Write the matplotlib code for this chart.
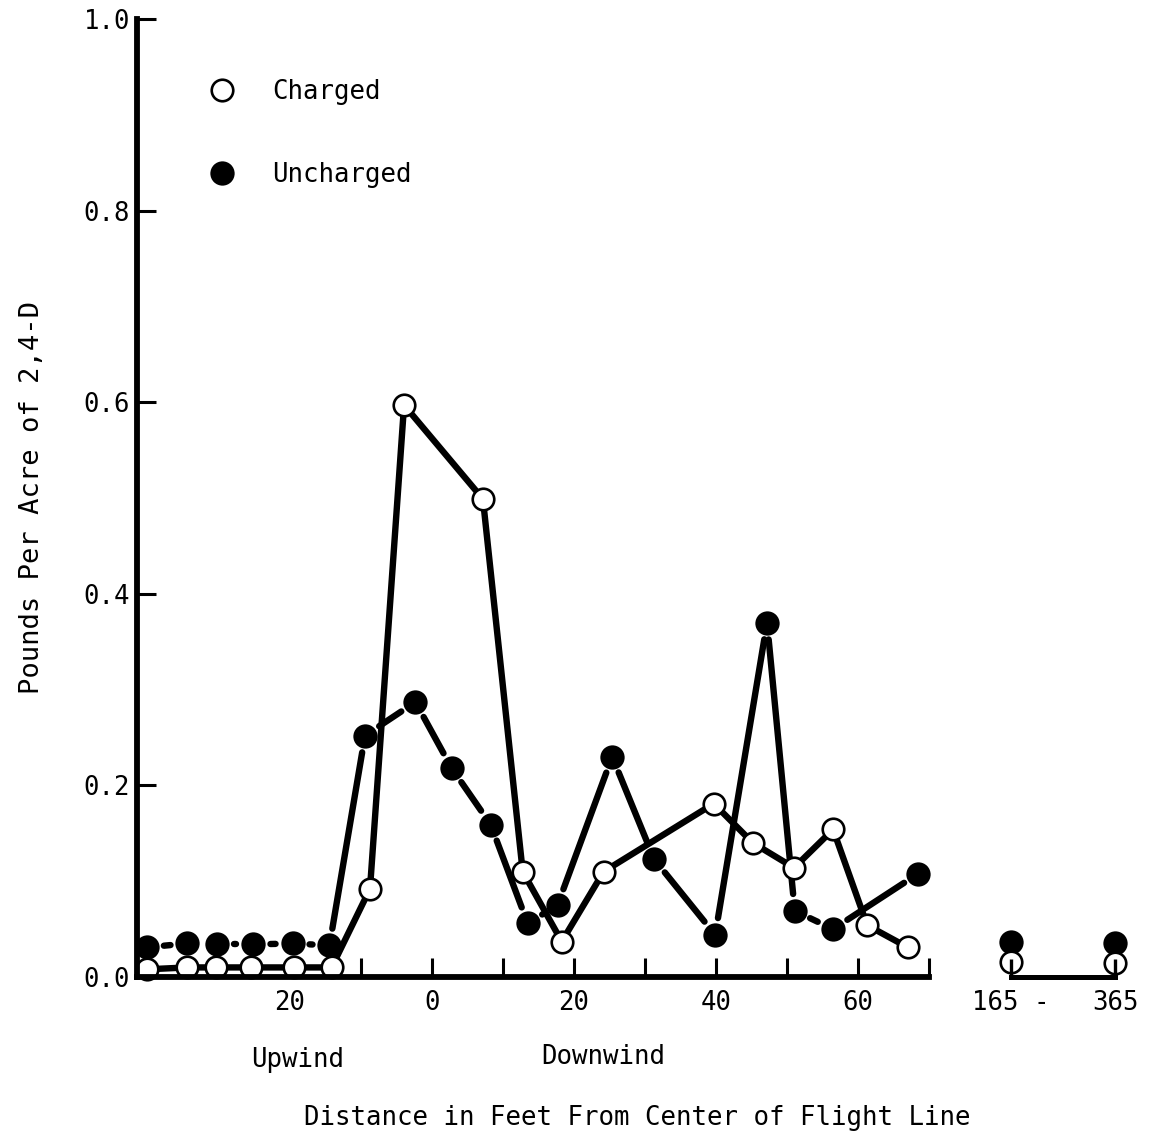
import numpy as np
import matplotlib
matplotlib.use("Agg")
import matplotlib.pyplot as plt
from matplotlib.lines import Line2D

plt.rcParams['font.family'] = ['DejaVu Sans Mono']
FS = 18.5

# ---- data (feet from flight-line centre; upwind negative) ----
charged_x = [-40.1, -34.4, -30.4, -25.4, -19.4, -14.1, -8.7, -3.9, 7.2, 12.8,
             18.3, 24.2, 39.7, 45.2, 51.0, 56.5, 61.3, 67.0]
charged_y = [0.008, 0.010, 0.010, 0.010, 0.010, 0.010, 0.092, 0.597, 0.499, 0.110,
             0.037, 0.110, 0.181, 0.140, 0.114, 0.154, 0.054, 0.031]

uncharged_x = [-40.1, -34.4, -30.3, -25.1, -19.6, -14.4, -9.4, -2.3, 2.8, 8.3,
               13.5, 17.7, 25.4, 31.3, 39.9, 47.2, 51.1, 56.5, 68.5]
uncharged_y = [0.031, 0.035, 0.034, 0.034, 0.035, 0.033, 0.252, 0.287, 0.218, 0.159,
               0.056, 0.075, 0.230, 0.123, 0.044, 0.370, 0.069, 0.050, 0.108]

far_x = [165, 365]
far_charged = [0.016, 0.015]
far_uncharged = [0.037, 0.035]

xtick_pos = [-20, -10, 0, 10, 20, 30, 40, 50, 60, 70]
xtick_lab = ['20', '', '0', '', '20', '', '40', '', '60', '']
ytick_pos = [0.0, 0.2, 0.4, 0.6, 0.8, 1.0]
ytick_lab = ['0.0', '0.2', '0.4', '0.6', '0.8', '1.0']

W, H = 1150, 1139
fig = plt.figure(figsize=(W / 100, H / 100), dpi=100)

def fx(px):
    return px / W

def fy(py):
    return 1 - py / H

y_bot, y_top = 977, 19
ax = fig.add_axes([fx(137), fy(y_bot), fx(929) - fx(137), (y_bot - y_top) / H])
ax.set_xlim(-41.5, 70)
ax.set_ylim(0, 1.0)

for s in ['top', 'right']:
    ax.spines[s].set_visible(False)
for s in ['left', 'bottom']:
    ax.spines[s].set_linewidth(4.2)
    ax.spines[s].set_zorder(6)

ax.set_xticks(xtick_pos, xtick_lab)
ax.set_yticks(ytick_pos, ytick_lab)
ax.tick_params(axis='both', direction='in', length=14, width=2.2, labelsize=FS)
ax.tick_params(axis='x', pad=9)
ax.tick_params(axis='y', pad=5)

LW = 4.6
GAP = 17  # pixels of empty space around each uncharged point


def gapped_segments(axis, xs, ys, gap_px):
    pts = axis.transData.transform(np.column_stack([xs, ys]))
    inv = axis.transData.inverted()
    segs = []
    for p, q in zip(pts[:-1], pts[1:]):
        d = q - p
        L = np.hypot(d[0], d[1])
        if L <= 2 * gap_px:
            continue
        u = d / L
        a = p + u * gap_px
        b = q - u * gap_px
        segs.append(inv.transform(np.array([a, b])))
    return segs


# Uncharged: broken line with gaps at the points
for seg in gapped_segments(ax, uncharged_x, uncharged_y, GAP):
    ax.plot(seg[:, 0], seg[:, 1], color='black', lw=LW,
            solid_capstyle='round', zorder=2)
ax.plot(uncharged_x, uncharged_y, linestyle='none', marker='o', ms=17.5,
        mfc='black', mec='black', mew=0, zorder=4, clip_on=False)

# Charged: continuous line with open circles
ax.plot(charged_x, charged_y, color='black', lw=LW, solid_capstyle='round', zorder=3)
ax.plot(charged_x, charged_y, linestyle='none', marker='o', ms=15.5, mfc='white',
        mec='black', mew=1.9, zorder=5, clip_on=False)

# Far-distance panel
ax2 = fig.add_axes([fx(1011), fy(y_bot), fx(1115) - fx(1011), (y_bot - y_top) / H])
ax2.set_xlim(165, 365)
ax2.set_ylim(0, 1.0)
for s in ['top', 'right', 'left']:
    ax2.spines[s].set_visible(False)
ax2.spines['bottom'].set_linewidth(3.6)
ax2.set_yticks([])
ax2.set_xticks(far_x, ['165 -', '365'])
ax2.tick_params(axis='x', direction='in', length=13, width=2.4, labelsize=FS, pad=9)
ax2.patch.set_alpha(0)
ax2.plot(far_x, far_uncharged, linestyle='none', marker='o', ms=17.5,
         mfc='black', mec='black', mew=0, zorder=1, clip_on=False)
ax2.plot(far_x, far_charged, linestyle='none', marker='o', ms=15.5, mfc='white',
         mec='black', mew=1.9, zorder=1.5, clip_on=False)

# Legend
h_open = Line2D([], [], linestyle='none', marker='o', ms=15.5, mfc='white',
                mec='black', mew=1.9)
h_fill = Line2D([], [], linestyle='none', marker='o', ms=17.5, mfc='black',
                mec='black', mew=0)
fig.legend([h_open, h_fill], ['Charged', 'Uncharged'], loc='upper left',
           bbox_to_anchor=(fx(209), fy(79)), frameon=False, fontsize=FS,
           handlelength=1.0, handletextpad=1.45, labelspacing=2.2,
           borderpad=0, borderaxespad=0)

# Axis texts
fig.text(fx(298), fy(1060), 'Upwind', ha='center', va='center', fontsize=FS)
fig.text(fx(603), fy(1057), 'Downwind', ha='center', va='center', fontsize=FS)
fig.text(fx(637), fy(1118), 'Distance in Feet From Center of Flight Line',
         ha='center', va='center', fontsize=FS)
fig.text(fx(32), fy(497), 'Pounds Per Acre of 2,4-D', ha='center', va='center',
         rotation=90, fontsize=19.5)

fig.savefig('out.png', dpi=100)
